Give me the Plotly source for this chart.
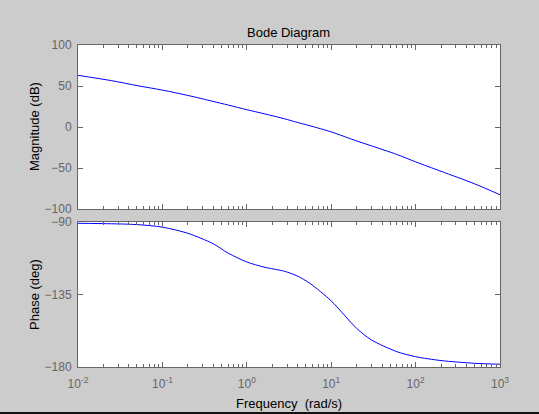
import plotly.graph_objects as go

# frequency samples (rad/s)
freq = [0.01, 0.025, 0.05, 0.1, 0.2, 0.4, 0.6, 1, 1.6, 2.8, 4, 5.6,
        10, 20, 30, 60, 100, 200, 500, 1000]
mag_db = [63, 56.5, 50.5, 45, 38.5, 31.2, 26.8, 21.1, 16.2, 10, 5.5, 1.5,
          -6, -17, -23, -33.5, -42.5, -54, -69.3, -82.6]
phase_deg = [-90.8, -91.1, -91.6, -93.2, -97, -103.5, -109.3, -114.8, -118, -120.6,
             -123.6, -128.1, -139, -156, -163.2, -170.5, -173.6, -176, -177.7, -178.3]

xtick_vals = [0.01, 0.1, 1, 10, 100, 1000]
xtick_text = ["10<sup>-2</sup>", "10<sup>-1</sup>", "10<sup>0</sup>",
              "10<sup>1</sup>", "10<sup>2</sup>", "10<sup>3</sup>"]
mag_ticks = [-100, -50, 0, 50, 100]
phase_ticks = [-180, -135, -90]

W, H = 539, 414
AX = "#666666"
FONT = "Liberation Sans, Arial, sans-serif"

fig = go.Figure()
fig.add_trace(go.Scatter(x=freq, y=mag_db, mode="lines",
                         line=dict(color="#0000ff", width=1, shape="spline", smoothing=0.8),
                         xaxis="x", yaxis="y", showlegend=False))
fig.add_trace(go.Scatter(x=freq, y=phase_deg, mode="lines",
                         line=dict(color="#0000ff", width=1, shape="spline", smoothing=0.8),
                         xaxis="x2", yaxis="y2", showlegend=False))

xdom = [78 / W, 500 / W]
common_x = dict(type="log", range=[-2, 3], domain=xdom, showgrid=False, zeroline=False,
                automargin=False, showline=True, linecolor=AX, linewidth=1, mirror="ticks",
                ticks="inside", ticklen=5, tickcolor=AX, tickvals=xtick_vals,
                minor=dict(ticks="inside", ticklen=3, tickcolor=AX, dtick="D1"))
common_y = dict(showgrid=False, zeroline=False, automargin=False, showline=True,
                linecolor=AX, linewidth=1, mirror="ticks", ticks="inside", ticklen=5,
                tickcolor=AX, ticklabelstandoff=3,
                tickfont=dict(size=12, color=AX, family=FONT))

title_font = dict(size=13, color="black", family=FONT)
fig.update_layout(
    width=W, height=H,
    margin=dict(l=0, r=0, t=0, b=0),
    paper_bgcolor="#cccccc", plot_bgcolor="white",
    xaxis=dict(common_x, anchor="y", showticklabels=False),
    yaxis=dict(common_y, domain=[1 - 209 / H, 1 - 45 / H], range=[-100, 100],
               tickvals=mag_ticks, anchor="x"),
    xaxis2=dict(common_x, anchor="y2", ticktext=xtick_text, ticklabelstandoff=6,
                tickfont=dict(size=12, color=AX, family=FONT)),
    yaxis2=dict(common_y, domain=[1 - 367 / H, 1 - 222 / H], range=[-180, -90],
                tickvals=phase_ticks, anchor="x2"),
    annotations=[
        dict(text="Bode Diagram", x=288 / W, y=1 - 32 / H, font=title_font),
        dict(text="Magnitude (dB)", x=34 / W, y=1 - 127 / H, textangle=-90, font=title_font),
        dict(text="Phase (deg)", x=34 / W, y=1 - 295 / H, textangle=-90, font=title_font),
        dict(text="Frequency\u00a0\u00a0(rad/s)", x=289 / W, y=1 - 403 / H, font=title_font),
    ],
    shapes=[dict(type="line", xref="paper", yref="paper", x0=0, x1=1, y0=1 / H, y1=1 / H,
                 line=dict(color="#111111", width=2))],
)
fig.update_annotations(xref="paper", yref="paper", showarrow=False,
                       xanchor="center", yanchor="middle")

fig.write_html("out.html", config={"displayModeBar": False},
               post_script="document.body.style.margin='0';document.body.style.overflow='hidden';")
